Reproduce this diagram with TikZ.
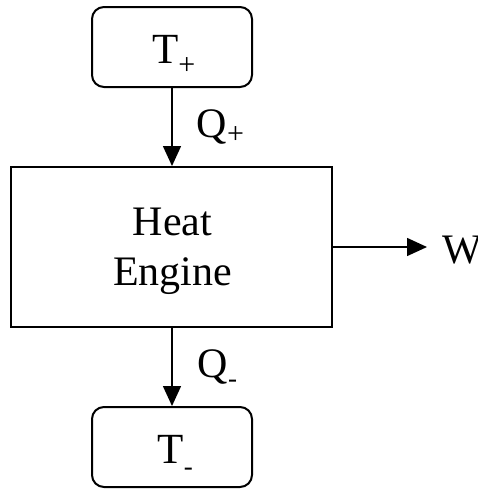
\documentclass[tikz,border=0pt]{standalone}
\usepackage{fontspec}
\setmainfont{Liberation Serif}
\usetikzlibrary{arrows.meta}
\newcommand{\lowsub}[3]{\raisebox{-#1pt}{\fontsize{#2}{#2}\selectfont #3}}
\begin{document}
\begin{tikzpicture}[x=1pt,y=-1pt,
  resbox/.style={draw, line width=2pt, rounded corners=12pt, minimum width=160pt, minimum height=80pt, inner sep=0pt},
  engbox/.style={draw, line width=2pt, minimum width=321pt, minimum height=160pt, inner sep=0pt},
  bigtxt/.style={inner sep=0pt, font=\fontsize{43}{43}\selectfont},
  lbltxt/.style={inner sep=0pt, font=\fontsize{42}{42}\selectfont},
  engtxt/.style={inner sep=0pt, font=\fontsize{42}{50}\selectfont, align=center},
  flow/.style={line width=1.5pt, -{Triangle[length=20pt,width=18pt]}}]
\useasboundingbox (0,0) rectangle (478,491);
\node[resbox] (tp) at (172,47) {};
\node[engbox] (he) at (171.5,247) {};
\node[resbox] (tm) at (172,447) {};
\node[bigtxt, anchor=base west] (tpl) at (152,63) {T\lowsub{11}{30}{+}};
\node[bigtxt, anchor=base west] (tml) at (157.5,463) {T\lowsub{12}{27}{-}};
\node[engtxt, anchor=base] (hel1) at (172.5,235) {Heat};
\node[engtxt, anchor=base] (hel2) at (172.5,285) {Engine};
\node[lbltxt, anchor=base west] (qp) at (196.5,137) {Q\lowsub{6}{30}{+}};
\node[lbltxt, anchor=base west] (qm) at (197.5,377) {Q\lowsub{10}{27}{-}};
\node[lbltxt, anchor=base west] (w) at (442,263) {W};
\coordinate (wend) at (427,247);
\draw[flow] (tp.south) -- (tp.south |- he.north);
\draw[flow] (tm.north |- he.south) -- (tm.north);
\draw[flow] (he.east) -- (wend);
\end{tikzpicture}
\end{document}
